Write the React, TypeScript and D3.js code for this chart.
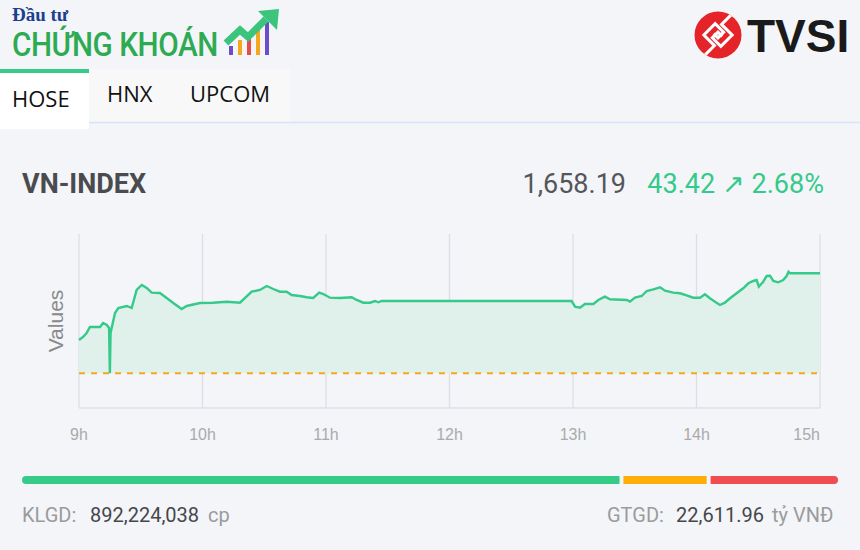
import React from "react";
import * as d3 from "d3";

// ---------- DATA ----------
const times = [
  "09:00:00", "09:02:06", "09:03:42", "09:05:18", "09:10:12", "09:11:42", "09:13:30", "09:14:36",
  "09:15:00", "09:15:20", "09:17:30", "09:19:06", "09:23:12", "09:25:36", "09:28:00", "09:30:30",
  "09:32:54", "09:35:18", "09:39:18", "09:42:36", "09:45:48", "09:49:54", "09:52:18", "09:58:48",
  "10:05:06", "10:11:48", "10:18:12", "10:23:54", "10:27:54", "10:31:12", "10:34:24", "10:37:36",
  "10:40:54", "10:43:18", "10:47:24", "10:50:36", "10:53:48", "10:56:42", "10:58:42", "11:01:54",
  "11:06:48", "11:12:30", "11:14:54", "11:18:06", "11:21:24", "11:23:48", "11:25:30", "11:27:00",
  "12:59:18", "13:01:00", "13:03:24", "13:05:48", "13:09:54", "13:12:18", "13:15:30", "13:18:00",
  "13:26:06", "13:27:42", "13:30:06", "13:33:24", "13:35:48", "13:39:00", "13:42:18", "13:44:42",
  "13:48:42", "13:52:00", "13:55:12", "13:58:24", "14:01:42", "14:04:06", "14:06:30", "14:09:00",
  "14:11:24", "14:13:48", "14:16:18", "14:19:30", "14:22:42", "14:25:12", "14:27:36", "14:29:12",
  "14:30:18", "14:32:24", "14:34:06", "14:35:42", "14:37:18", "14:39:42", "14:42:06", "14:43:48",
  "14:44:42", "14:45:30", "15:00:00",
];
const values = [
  1629.23, 1630.66, 1632.27, 1634.87, 1634.87, 1636.61, 1635.74, 1634.44,
  1614.77, 1632.27, 1640.95, 1643.12, 1643.99, 1643.12, 1650.94, 1653.11,
  1651.81, 1649.77, 1649.64, 1647.47, 1645.29, 1642.69, 1643.99, 1645.29,
  1645.42, 1645.86, 1645.42, 1650.2, 1650.94, 1652.68, 1651.37, 1650.2,
  1650.2, 1648.77, 1648.33, 1647.77, 1647.47, 1649.77, 1649.2, 1647.6,
  1647.47, 1647.77, 1646.6, 1645.42, 1645.42, 1646.16, 1645.6, 1646.16,
  1646.16, 1643.69, 1643.25, 1644.86, 1644.86, 1646.6, 1648.03, 1646.9,
  1646.6, 1645.86, 1647.6, 1648.33, 1650.5, 1651.24, 1652.11, 1650.63,
  1649.77, 1649.51, 1648.64, 1647.6, 1647.6, 1649.07, 1647.34, 1645.86,
  1644.43, 1645.42, 1647.34, 1649.51, 1651.68, 1653.85, 1654.85, 1655.28,
  1652.37, 1654.54, 1657.02, 1657.15, 1654.85, 1654.28, 1655.28, 1657.02,
  1658.88, 1658.19, 1658.19,
];
const refValue = 1614.77;
const indexName = "VN-INDEX";
const closeText = "1,658.19";
const changeText = "43.42";
const changePctText = "2.68%";
const hourLabels = ["9h", "10h", "11h", "12h", "13h", "14h", "15h"];
const tabs = ["HOSE", "HNX", "UPCOM"];
const breadthValues = [244, 34, 52];
const breadthColors = ["#37cb8a", "#ffad08", "#ef4d4f"];
const volumeText = "892,224,038";
const valueText = "22,611.96";

// ---------- LAYOUT ----------
const W = 860;
const H = 550;
const plot = { left: 79, right: 820, top: 234, bottom: 408 };

const parse = d3.timeParse("%H:%M:%S");

export default function App() {
  const data = times.map((t, i) => ({ t: parse(t) as Date, v: values[i] }));
  const x = d3
    .scaleTime()
    .domain([parse("09:00:00") as Date, parse("15:00:00") as Date])
    .range([plot.left, plot.right]);
  const y = d3.scaleLinear().domain([1599.7, 1675.25]).range([plot.bottom, plot.top]);
  const ticks = x.ticks(d3.timeHour.every(1));

  const line = d3
    .line<{ t: Date; v: number }>()
    .x((d) => x(d.t))
    .y((d) => y(d.v));
  const area = d3
    .area<{ t: Date; v: number }>()
    .x((d) => x(d.t))
    .y0(y(refValue))
    .y1((d) => y(d.v));

  // breadth bar
  const barLeft = 22;
  const barRight = 838;
  const gap = 4;
  const total = d3.sum(breadthValues);
  const bw = d3
    .scaleLinear()
    .domain([0, total])
    .range([0, barRight - barLeft - gap * (breadthValues.length - 1)]);
  let acc = barLeft;
  const segs = breadthValues.map((v, i) => {
    const s = { x: acc, w: bw(v), c: breadthColors[i] };
    acc += bw(v) + gap;
    return s;
  });

  const roboto = "Roboto, 'Liberation Sans', sans-serif";
  const open = "'Open Sans', 'Noto Sans', sans-serif";
  const arial = "'Liberation Sans', Arial, sans-serif";

  return (
    <div style={{ position: "absolute", left: 0, top: 0, width: W, height: H }}>
      <svg width={W} height={H} style={{ display: "block" }}>
        <defs>
          <clipPath id="tvsiClip">
            <circle cx={718} cy={35} r={23.5} />
          </clipPath>
        </defs>
        <rect x={0} y={0} width={W} height={H} fill="#f3f5f9" />

        {/* ---- logo left ---- */}
        <text x={12} y={21} fontFamily="'Liberation Serif', 'DejaVu Serif', serif" fontWeight={700} fontSize={19} fill="#1d3f8e">
          Đầu tư
        </text>
        <g transform="translate(12,56) scale(0.9,1)">
          <text x={0} y={0} fontFamily={roboto} fontWeight={500} fontSize={33} fill="#2eab52" letterSpacing={-0.5}>
            CHỨNG KHOÁN
          </text>
        </g>
        <g>
          <rect x={229} y={46} width={4} height={9} fill="#6b4fc6" />
          <rect x={238} y={40} width={4} height={15} fill="#f6a81c" />
          <rect x={247} y={37} width={4} height={18} fill="#ea4a4a" />
          <rect x={256} y={30} width={4} height={25} fill="#f6a81c" />
          <rect x={265} y={22} width={4} height={33} fill="#6b4fc6" />
          <path d="M226,43 L240,30 L248,37 L266,19" fill="none" stroke="#3ac47c" strokeWidth={7} strokeLinejoin="miter" />
          <polygon points="258,11 279,9 277,30" fill="#3ac47c" />
        </g>

        {/* ---- TVSI logo ---- */}
        <circle cx={718} cy={35} r={23.5} fill="#e52429" />
        <g clipPath="url(#tvsiClip)">
          <g transform="translate(718,35) rotate(-45)">
            <path d="M-26,5 L-10,5 L-10,-10 L6,-10 L6,2 L-2,2 L-2,-4" fill="none" stroke="#fff" strokeWidth={3} />
            <path d="M26,-5 L10,-5 L10,10 L-6,10 L-6,-2 L2,-2 L2,4" fill="none" stroke="#fff" strokeWidth={3} />
          </g>
        </g>
        <text
          x={0}
          y={0}
          fontFamily="'Liberation Sans', Arial, sans-serif"
          fontWeight={700}
          fontSize={46}
          fill="#1a1a1a"
          transform="translate(747,52)"
        >
          TVSI
        </text>

        {/* ---- tabs ---- */}
        <rect x={89} y={69} width={201} height={53} fill="#f8f8f9" />
        <line x1={89} x2={W} y1={122.5} y2={122.5} stroke="#d6e4f5" strokeWidth={1.5} />
        <rect x={0} y={69} width={89} height={60} fill="#ffffff" />
        <rect x={0} y={69} width={89} height={4} fill="#37cb8a" />
        <text x={12} y={107} fontFamily={open} fontSize={22} fill="#111">{tabs[0]}</text>
        <text x={107} y={102} fontFamily={open} fontSize={22} fill="#111">{tabs[1]}</text>
        <text x={190} y={102} fontFamily={open} fontSize={22} fill="#111">{tabs[2]}</text>

        {/* ---- header ---- */}
        <text x={22} y={193} fontFamily={roboto} fontWeight={700} fontSize={27} fill="#4a4b4e">
          {indexName}
        </text>
        <text x={626} y={193} textAnchor="end" fontFamily={roboto} fontSize={27} fill="#55565a">
          {closeText}
        </text>
        <text x={824} y={193} textAnchor="end" fontFamily={roboto} fontSize={27} fill="#35c98a">
          {changeText} ↗ {changePctText}
        </text>

        {/* ---- chart ---- */}
        {ticks.map((t, i) => (
          <line key={i} x1={x(t)} x2={x(t)} y1={plot.top} y2={plot.bottom} stroke="#dcdfe5" strokeWidth={1.3} />
        ))}
        <line x1={plot.left} x2={plot.right} y1={plot.bottom} y2={plot.bottom} stroke="#dcdfe5" strokeWidth={1.3} />
        <path d={area(data) || ""} fill="#e0f1eb" />
        <path d={line(data) || ""} fill="none" stroke="#35c98a" strokeWidth={2.4} />
        <line
          x1={plot.left}
          x2={plot.right}
          y1={y(refValue)}
          y2={y(refValue)}
          stroke="#f5a81d"
          strokeWidth={2}
          strokeDasharray="6,6"
        />
        {ticks.map((t, i) => (
          <text
            key={i}
            x={x(t)}
            y={440}
            textAnchor={i === ticks.length - 1 ? "end" : "middle"}
            fontFamily={arial}
            fontSize={16}
            fill="#aaaaaa"
          >
            {hourLabels[i]}
          </text>
        ))}
        <text
          transform={`translate(63,${(plot.top + plot.bottom) / 2}) rotate(-90)`}
          textAnchor="middle"
          fontFamily={arial}
          fontSize={21}
          fill="#8a8a8a"
        >
          Values
        </text>

        {/* ---- breadth bar ---- */}
        {segs.map((s, i) => (
          <rect key={i} x={s.x} y={476} width={s.w} height={8} rx={i === 1 ? 0 : 4} fill={s.c} />
        ))}
        <rect x={segs[0].x + segs[0].w - 4} y={476} width={4} height={8} fill={segs[0].c} />
        <rect x={segs[2].x} y={476} width={4} height={8} fill={segs[2].c} />

        {/* ---- footer ---- */}
        <text x={22} y={522} fontFamily={roboto} fontSize={20} fill="#9b9b9b">KLGD:</text>
        <text x={90} y={522} fontFamily={roboto} fontSize={20} fill="#46474a">{volumeText}</text>
        <text x={208} y={522} fontFamily={roboto} fontSize={20} fill="#9b9b9b">cp</text>
        <text x={607} y={522} fontFamily={roboto} fontSize={20} fill="#9b9b9b">GTGD:</text>
        <text x={676} y={522} fontFamily={roboto} fontSize={20} fill="#46474a">{valueText}</text>
        <text x={772} y={522} fontFamily={roboto} fontSize={20} fill="#9b9b9b">tỷ VNĐ</text>
      </svg>
    </div>
  );
}
